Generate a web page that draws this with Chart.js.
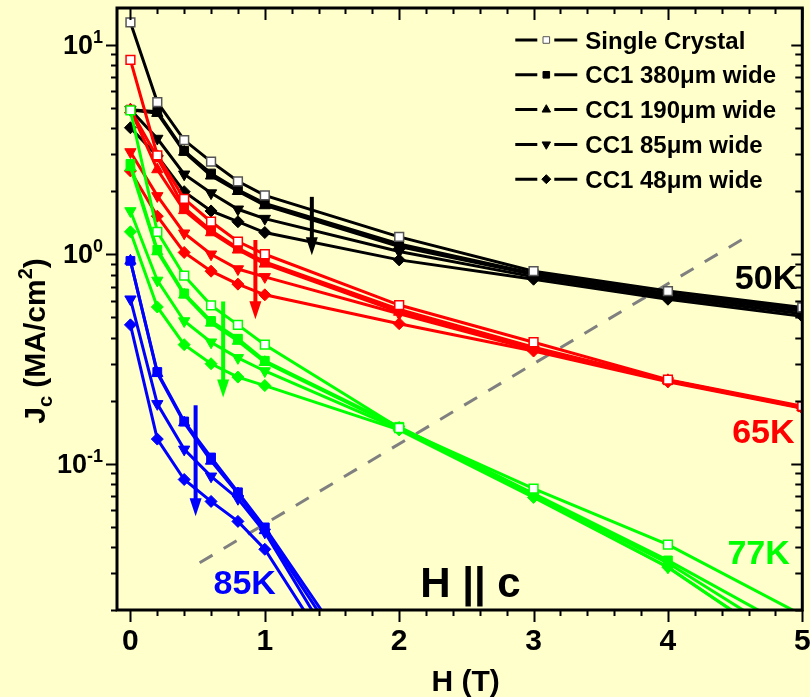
<!DOCTYPE html>
<html>
<head>
    <title>Jc vs H, H || c</title>
    <script src="https://cdn.jsdelivr.net/npm/chart.js@4.4.1/dist/chart.umd.min.js"></script>
    <style>
        html, body { margin: 0; padding: 0; background: #ffffcc; }
        #jcChart { display: block; }
    </style>
</head>
<body>
    <canvas id="jcChart" width="810" height="697"></canvas>
    <script>
        // field values (T)
        var fieldH = [0, 0.2, 0.4, 0.6, 0.8, 1, 2, 3, 4, 5];
        var fieldH85 = [0, 0.2, 0.4, 0.6, 0.8, 1, 2];

        var sampleNames = ['Single Crystal', 'CC1 380\u03bcm wide', 'CC1 190\u03bcm wide', 'CC1 85\u03bcm wide', 'CC1 48\u03bcm wide'];

        // Jc (MA/cm2) at 50K
        var jc50_sc  = [12.8, 5.33, 3.51, 2.77, 2.23, 1.91, 1.21, 0.83, 0.667, 0.557];
        var jc50_380 = [4.9, 4.8, 3.12, 2.43, 2.03, 1.75, 1.12, 0.81, 0.65, 0.545];
        var jc50_190 = [4.9, 4.72, 3.08, 2.37, 2.0, 1.71, 1.09, 0.80, 0.64, 0.535];
        var jc50_85  = [4.9, 3.57, 2.41, 1.96, 1.64, 1.48, 1.03, 0.78, 0.625, 0.52];
        var jc50_48  = [4.02, 2.95, 1.99, 1.61, 1.43, 1.27, 0.94, 0.76, 0.61, 0.505];

        // 65K
        var jc65_sc  = [8.47, 2.97, 1.84, 1.43, 1.15, 1.0, 0.572, 0.38, 0.252, 0.188];
        var jc65_380 = [4.9, 2.9, 1.67, 1.3, 1.07, 0.92, 0.545, 0.36, 0.25, 0.186];
        var jc65_190 = [4.9, 2.54, 1.62, 1.27, 1.05, 0.9, 0.53, 0.355, 0.25, 0.186];
        var jc65_85  = [3.08, 1.9, 1.26, 1.0, 0.85, 0.78, 0.52, 0.35, 0.248, 0.185];
        var jc65_48  = [2.5, 1.52, 1.02, 0.83, 0.72, 0.64, 0.466, 0.345, 0.246, 0.184];

        // 77K
        var jc77_sc  = [4.86, 1.28, 0.79, 0.57, 0.46, 0.37, 0.148, 0.076, 0.041, 0.0189];
        var jc77_380 = [2.7, 1.05, 0.65, 0.48, 0.395, 0.31, 0.15, 0.072, 0.0345, 0.0153];
        var jc77_190 = [2.6, 1.03, 0.64, 0.47, 0.385, 0.305, 0.148, 0.071, 0.0335, 0.0133];
        var jc77_85  = [1.61, 0.75, 0.48, 0.38, 0.32, 0.277, 0.146, 0.07, 0.032, 0.0118];
        var jc77_48  = [1.28, 0.56, 0.37, 0.30, 0.259, 0.236, 0.145, 0.069, 0.032, 0.0118];

        // 85K (no single crystal curve)
        var jc85_380 = [0.93, 0.274, 0.159, 0.107, 0.073, 0.0496, 0.0057];
        var jc85_190 = [0.93, 0.27, 0.157, 0.103, 0.072, 0.048, 0.0051];
        var jc85_85  = [0.61, 0.193, 0.117, 0.087, 0.068, 0.047, 0.0041];
        var jc85_48  = [0.46, 0.131, 0.084, 0.066, 0.053, 0.039, 0.0039];

        // width-dependence arrows
        var arrowX   = [1.35, 0.93, 0.69, 0.485];
        var arrowTop = [1.88, 1.17, 0.595, 0.19];
        var arrowTip = [0.99, 0.49, 0.207, 0.056];

        // guide line
        var guideX = [0.515, 4.63];
        var guideY = [0.0336, 1.26];

        var tempLabels = ['50K', '65K', '77K', '85K'];
        var tempLabelX = [4.73, 4.71, 4.675, 0.85];
        var tempLabelY = [0.686, 0.126, 0.0332, 0.0239];

        var yMajor = [0.1, 1, 10];
        var yExp = ['-1', '0', '1'];

        var BLACK = '#000000', RED = '#ff0000', GREEN = '#00ff00', BLUE = '#0000ff';
        var FONT = "'Liberation Sans', Arial, sans-serif";

        var markers = [
            { style: 'rect', rot: 0, open: true, r: 6.2 },
            { style: 'rect', rot: 0, open: false, r: 6.2 },
            { style: 'triangle', rot: 0, open: false, r: 6.5 },
            { style: 'triangle', rot: 180, open: false, r: 6.5 },
            { style: 'rectRot', rot: 0, open: false, r: 6 }
        ];

        function pts(xs, ys) {
            return ys.map(function (y, i) { return { x: xs[i], y: y }; });
        }

        function series(label, xs, ys, color, k, order) {
            var m = markers[k];
            return {
                label: label,
                data: pts(xs, ys),
                borderColor: color,
                borderWidth: 3,
                fill: false,
                tension: 0,
                pointStyle: m.style,
                pointRotation: m.rot,
                pointRadius: m.r,
                pointHoverRadius: m.r,
                pointBackgroundColor: m.open ? '#ffffff' : color,
                pointBorderColor: m.open ? (color === BLACK ? '#555555' : color) : color,
                pointBorderWidth: m.open ? 1.5 : 1,
                order: order
            };
        }

        var datasets = [];
        [jc77_sc, jc77_380, jc77_190, jc77_85, jc77_48].forEach(function (d, k) {
            datasets.push(series('77K ' + sampleNames[k], fieldH, d, GREEN, k, 10 + k));
        });
        [jc65_sc, jc65_380, jc65_190, jc65_85, jc65_48].forEach(function (d, k) {
            datasets.push(series('65K ' + sampleNames[k], fieldH, d, RED, k, 20 + k));
        });
        [jc50_sc, jc50_380, jc50_190, jc50_85, jc50_48].forEach(function (d, k) {
            datasets.push(series('50K ' + sampleNames[k], fieldH, d, BLACK, k, 30 + k));
        });
        [jc85_380, jc85_190, jc85_85, jc85_48].forEach(function (d, k) {
            datasets.push(series('85K ' + sampleNames[k + 1], fieldH85, d, BLUE, k + 1, 1 + k));
        });
        datasets.push({
            label: 'guide',
            data: pts(guideX, guideY),
            borderColor: '#808080',
            borderWidth: 3,
            borderDash: [15, 13],
            pointRadius: 0,
            fill: false,
            order: 99
        });

        function richText(ctx, parts, x, y, align) {
            var total = 0;
            parts.forEach(function (p) {
                ctx.font = 'bold ' + p.size + 'px ' + FONT;
                p.w = ctx.measureText(p.t).width;
                total += p.w;
            });
            var cx = align === 'right' ? x - total : (align === 'center' ? x - total / 2 : x);
            ctx.textAlign = 'left';
            ctx.textBaseline = 'alphabetic';
            parts.forEach(function (p) {
                ctx.font = 'bold ' + p.size + 'px ' + FONT;
                ctx.fillText(p.t, cx, y + (p.dy || 0));
                cx += p.w;
            });
        }

        var framePlugin = {
            id: 'frame',
            beforeDraw: function (chart) {
                var ctx = chart.ctx;
                ctx.save();
                ctx.fillStyle = '#ffffcc';
                ctx.fillRect(0, 0, chart.width, chart.height);
                ctx.restore();
            },
            afterDatasetsDraw: function (chart) {
                var ctx = chart.ctx, xs = chart.scales.x, ys = chart.scales.y;
                var colors = [BLACK, RED, GREEN, BLUE];
                ctx.save();
                // arrows
                arrowX.forEach(function (v, i) {
                    var px = xs.getPixelForValue(v);
                    var top = ys.getPixelForValue(arrowTop[i]);
                    var tip = ys.getPixelForValue(arrowTip[i]);
                    ctx.strokeStyle = colors[i];
                    ctx.fillStyle = colors[i];
                    ctx.lineWidth = 4;
                    ctx.beginPath();
                    ctx.moveTo(px, top);
                    ctx.lineTo(px, tip - 14);
                    ctx.stroke();
                    ctx.beginPath();
                    ctx.moveTo(px - 6, tip - 18);
                    ctx.lineTo(px + 6, tip - 18);
                    ctx.lineTo(px, tip);
                    ctx.closePath();
                    ctx.fill();
                });
                // temperature labels
                tempLabels.forEach(function (t, i) {
                    ctx.fillStyle = colors[i];
                    richText(ctx, [{ t: t, size: 34 }], xs.getPixelForValue(tempLabelX[i]), ys.getPixelForValue(tempLabelY[i]), 'center');
                });
                ctx.fillStyle = BLACK;
                richText(ctx, [{ t: 'H || c', size: 42 }], xs.getPixelForValue(2.53), ys.getPixelForValue(0.0231), 'center');
                ctx.restore();
            },
            afterDraw: function (chart) {
                var ctx = chart.ctx, a = chart.chartArea;
                var xs = chart.scales.x, ys = chart.scales.y;
                ctx.save();
                ctx.strokeStyle = BLACK;
                ctx.lineWidth = 3;
                ctx.strokeRect(a.left, a.top, a.right - a.left, a.bottom - a.top);

                ctx.lineWidth = 2;
                // x ticks, bottom outward, top inward
                for (var i = 0; i <= 25; i++) {
                    var v = i * 0.2;
                    var px = Math.round(xs.getPixelForValue(v)) + 0.5;
                    var len = (i % 5 === 0) ? 12 : 6;
                    ctx.beginPath();
                    ctx.moveTo(px, a.bottom);
                    ctx.lineTo(px, a.bottom + len);
                    ctx.moveTo(px, a.top);
                    ctx.lineTo(px, a.top + len);
                    ctx.stroke();
                }
                // y ticks, left outward, right inward
                [0.01, 0.1, 1, 10].forEach(function (dec) {
                    for (var m = 1; m <= 9; m++) {
                        var val = dec * m;
                        if (val < 0.02 || val > 15) continue;
                        var py = Math.round(ys.getPixelForValue(val)) + 0.5;
                        var major = (m === 1);
                        ctx.beginPath();
                        ctx.moveTo(a.left - (major ? 11 : 6), py);
                        ctx.lineTo(a.left, py);
                        ctx.moveTo(a.right, py);
                        ctx.lineTo(a.right - (major ? 11 : 7), py);
                        ctx.stroke();
                    }
                });

                // y tick labels with exponents
                ctx.fillStyle = BLACK;
                yMajor.forEach(function (val, i) {
                    var py = ys.getPixelForValue(val);
                    richText(ctx, [{ t: '10', size: 27 }, { t: yExp[i], size: 18, dy: -11 }], a.left - 14, py + 9, 'right');
                });

                // y axis title
                ctx.save();
                ctx.translate(34, 341);
                ctx.rotate(-Math.PI / 2);
                richText(ctx, [
                    { t: 'J', size: 30 },
                    { t: 'c', size: 20, dy: 7 },
                    { t: ' (MA/cm', size: 30 },
                    { t: '2', size: 20, dy: -13 },
                    { t: ')', size: 30 }
                ], 0, 11, 'center');
                ctx.restore();

                // x axis title
                richText(ctx, [{ t: 'H (T)', size: 30 }], (a.left + a.right) / 2 + 6, 691, 'center');

                // legend
                var lx = a.right - 287, ly = 40, dy = 34.8;
                sampleNames.forEach(function (name, k) {
                    var y = ly + k * dy;
                    var m = markers[k];
                    ctx.strokeStyle = BLACK;
                    ctx.lineWidth = 3;
                    ctx.beginPath();
                    ctx.moveTo(lx, y);
                    ctx.lineTo(lx + 22, y);
                    ctx.moveTo(lx + 39, y);
                    ctx.lineTo(lx + 62, y);
                    ctx.stroke();
                    ctx.fillStyle = m.open ? '#ffffff' : BLACK;
                    ctx.strokeStyle = m.open ? '#555555' : BLACK;
                    ctx.lineWidth = 1;
                    Chart.helpers.drawPoint(ctx, { pointStyle: m.style, rotation: m.rot, radius: m.r * 0.75, borderWidth: 1 }, lx + 31, y);
                    ctx.fillStyle = BLACK;
                    richText(ctx, [{ t: name, size: 24 }], lx + 70, y + 8.5, 'left');
                });
                ctx.restore();
            }
        };

        var ctx = document.getElementById('jcChart').getContext('2d');
        var jcChart = new Chart(ctx, {
            type: 'line',
            data: { datasets: datasets },
            plugins: [framePlugin],
            options: {
                responsive: false,
                animation: false,
                events: [],
                layout: { padding: { top: 8, right: 7, left: 0, bottom: 0 } },
                plugins: {
                    legend: { display: false },
                    tooltip: { enabled: false }
                },
                scales: {
                    x: {
                        type: 'linear',
                        min: -0.1,
                        max: 5,
                        grid: { display: false, drawTicks: false },
                        border: { display: false },
                        afterBuildTicks: function (scale) {
                            scale.ticks = [0, 1, 2, 3, 4, 5].map(function (v) { return { value: v }; });
                        },
                        afterFit: function (scale) {
                            scale.height = 87;
                            scale.paddingLeft = 0;
                            scale.paddingRight = 0;
                        },
                        ticks: {
                            padding: 14,
                            color: BLACK,
                            font: { family: FONT, size: 30, weight: 'bold' },
                            maxRotation: 0,
                            autoSkip: false
                        }
                    },
                    y: {
                        type: 'logarithmic',
                        min: 0.02,
                        max: 15,
                        grid: { display: false, drawTicks: false },
                        border: { display: false },
                        ticks: { display: false },
                        afterFit: function (scale) {
                            scale.width = 117;
                            scale.paddingTop = 0;
                            scale.paddingBottom = 0;
                        }
                    }
                }
            }
        });
    </script>
</body>
</html>
